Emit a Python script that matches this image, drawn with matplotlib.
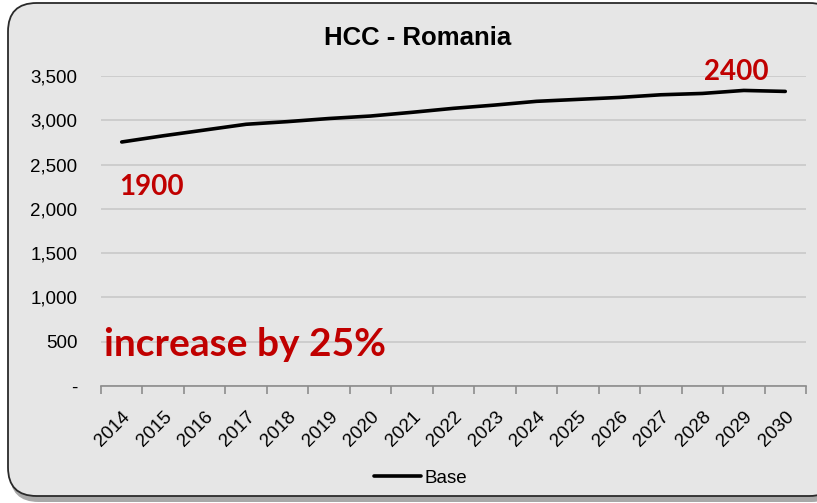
import numpy as np
import matplotlib.pyplot as plt
from matplotlib.patches import FancyBboxPatch

# HCC cases, Romania, base scenario
years = [str(y) for y in range(2014, 2031)]
base = [2755, 2825, 2890, 2955, 2985, 3020, 3048, 3090, 3135,
        3172, 3214, 3236, 3258, 3288, 3303, 3337, 3326]
y_ticks = [0, 500, 1000, 1500, 2000, 2500, 3000, 3500]
y_tick_labels = ['-', '500', '1,000', '1,500', '2,000', '2,500', '3,000', '3,500']

W, H = 817, 503
fig = plt.figure(figsize=(W / 100, H / 100), dpi=100, facecolor='white')

# rounded chart frame with a soft shadow at the bottom
shadow = FancyBboxPatch((10 / W, 1 / H), 830 / W, 490 / H,
                        boxstyle='round,pad=0,rounding_size=0.035',
                        transform=fig.transFigure, facecolor='#a8a8a8',
                        edgecolor='none', mutation_aspect=W / H, zorder=-2)
frame = FancyBboxPatch((8 / W, 7 / H), 830 / W, 493 / H,
                       boxstyle='round,pad=0,rounding_size=0.035',
                       transform=fig.transFigure, facecolor='#e6e6e6',
                       edgecolor='#2a2a2a', linewidth=1.3,
                       mutation_aspect=W / H, zorder=-1)
fig.patches.extend([shadow, frame])

ax = fig.add_axes([101 / W, 1 - 386 / H, 705 / W, 310 / H])
ax.set_facecolor('none')
x = np.arange(len(years))
ax.plot(x, base, color='black', lw=2.6, solid_capstyle='round', label='Base', zorder=3)

ax.set_xlim(-0.5, len(years) - 0.5)
ax.set_ylim(0, 3500)
ax.set_yticks(y_ticks)
ax.set_yticklabels(y_tick_labels, fontsize=13.5, family='Liberation Sans')
ax.tick_params(axis='y', length=0, pad=17)
ax.grid(axis='y', color='#c8c8c8', lw=1.2)
ax.set_axisbelow(True)

# category ticks sit between the years
ax.set_xticks(np.arange(-0.5, len(years), 1.0))
ax.set_xticklabels([])
ax.set_xticks(x, minor=True)
ax.set_xticklabels(years, minor=True, rotation=45, ha='right', va='top',
                   rotation_mode='anchor', fontsize=13.5, family='Liberation Sans')
ax.tick_params(axis='x', which='major', length=6, color='#8c8c8c', width=1.2)
ax.tick_params(axis='x', which='minor', length=0, pad=16)
for s in ['top', 'right', 'left']:
    ax.spines[s].set_visible(False)
ax.spines['bottom'].set_color('#8c8c8c')
ax.spines['bottom'].set_linewidth(1.2)

fig.text(418 / W, 1 - 38 / H, 'HCC - Romania', fontsize=18.5, fontweight='bold',
         family='Liberation Sans', ha='center', va='center')

red = '#c00000'
ax.text(-0.05, 2250, '1900', color=red, fontsize=20, fontweight='bold',
        family='Lato', va='center', ha='left')
ax.text(14.05, 3545, '2400', color=red, fontsize=20, fontweight='bold',
        family='Lato', va='center', ha='left')
ax.text(-0.42, 474, 'increase by 25%', color=red, fontsize=28, fontweight='bold',
        family='Lato', va='center', ha='left')

leg = fig.legend(loc='center', bbox_to_anchor=(421 / W, 1 - 478 / H), frameon=False,
                 prop={'family': 'Liberation Sans', 'size': 13.5},
                 handlelength=2.5, handletextpad=0.2)

fig.savefig('out.png', dpi=100, facecolor='white')
